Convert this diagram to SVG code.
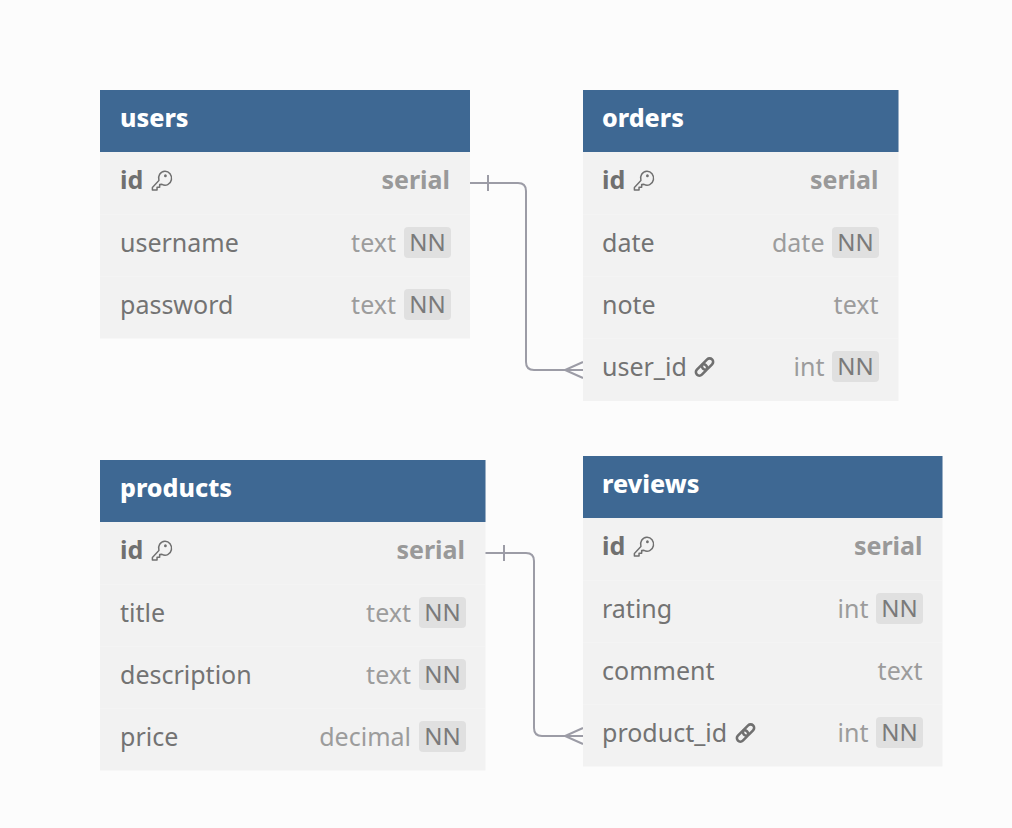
<svg xmlns="http://www.w3.org/2000/svg" width="1012" height="828" viewBox="0 0 1012 828">
<style>
text{font-family:"Noto Sans","Open Sans",sans-serif;font-size:25px}
.bg{fill:#f2f2f2}
.hd{fill:#3e6893}
.sep{stroke:#f4f4f4;stroke-width:1}
.title{font-weight:800;fill:#fff}
.n{fill:#737373}
.pk{font-weight:700;fill:#707070}
.t{fill:#9c9c9c;text-anchor:end}
.tb{fill:#999;font-weight:700;text-anchor:end}
.nn{fill:#e0e0e0}
.nnt{fill:#7a7a7a;text-anchor:middle;font-size:24px}
.ic{fill:none;stroke:#707070}
.c{fill:none;stroke:#9c9ca6;stroke-width:2}
</style>
<defs>
<g id="key"><g transform="translate(1 0) scale(.93 1)"><path class="ic" stroke-width="1.6" stroke-linejoin="round" d="M8.500 12.500 L1.500 19.500 L1.500 22 L6.500 22 L6.500 19.200 L9.300 19.200 L9.300 16.600 L11.800 16.400 A7 7 0 1 0 8.500 12.500 Z"/><circle cx="15.500" cy="7.800" r="1.500" fill="#707070"/></g></g>
<g id="link"><g class="ic" stroke-width="2.600"><rect x="10" y="0.500" width="7" height="13" rx="3.500" transform="rotate(45 13.500 7)"/><rect x="4" y="6.500" width="7" height="13" rx="3.500" transform="rotate(45 7.500 13)"/></g></g>
<g id="nn"><rect class="nn" x="0" y="0" width="47" height="31" rx="4"/><text class="nnt" x="23.500" y="24">NN</text></g>
</defs>
<rect width="1012" height="828" fill="#fcfcfc"/>
<g id="connectors">
<path class="c" d="M470 183 H518 Q526 183 526 191 V362 Q526 370 534 370 H583"/>
<path class="c" d="M488 175 V191 M583 362 L565 370 L583 378"/>
<path class="c" d="M485 553 H526 Q534 553 534 561 V728 Q534 736 542 736 H583"/>
<path class="c" d="M504 545 V561 M583 728 L565 736 L583 744"/>
</g>
<g id="users">
<rect class="bg" x="100" y="90" width="370" height="248.500"/>
<rect class="hd" x="100" y="90" width="370" height="62"/>
<text class="title" x="120" y="127">users</text>
<path class="sep" d="M100 214.500H470M100 276.500H470"/>
<text class="pk" x="120" y="189">id</text><use href="#key" x="150" y="168"/>
<text class="tb" x="450" y="189">serial</text>
<text class="n" x="120" y="252">username</text>
<text class="t" x="396" y="252">text</text><use href="#nn" x="404" y="227"/>
<text class="n" x="120" y="314">password</text>
<text class="t" x="396" y="314">text</text><use href="#nn" x="404" y="289"/>
</g>
<g id="orders">
<rect class="bg" x="583" y="90" width="315.500" height="311"/>
<rect class="hd" x="583" y="90" width="315.500" height="62"/>
<text class="title" x="602" y="127">orders</text>
<path class="sep" d="M583 214.500H898M583 276.500H898M583 338.500H898"/>
<text class="pk" x="602" y="189">id</text><use href="#key" x="632" y="168"/>
<text class="tb" x="878.500" y="189">serial</text>
<text class="n" x="602" y="252">date</text>
<text class="t" x="824.500" y="252">date</text><use href="#nn" x="832" y="227"/>
<text class="n" x="602" y="314">note</text>
<text class="t" x="878.500" y="314">text</text>
<text class="n" x="602" y="376">user_id</text><use href="#link" x="694" y="357"/>
<text class="t" x="824.500" y="376">int</text><use href="#nn" x="832" y="351"/>
</g>
<g id="products">
<rect class="bg" x="100" y="460" width="385.500" height="310.500"/>
<rect class="hd" x="100" y="460" width="385.500" height="62"/>
<text class="title" x="120" y="497">products</text>
<path class="sep" d="M100 584.500H485M100 646.500H485M100 708.500H485"/>
<text class="pk" x="120" y="559">id</text><use href="#key" x="150" y="538"/>
<text class="tb" x="465" y="559">serial</text>
<text class="n" x="120" y="622">title</text>
<text class="t" x="411" y="622">text</text><use href="#nn" x="419" y="597"/>
<text class="n" x="120" y="684">description</text>
<text class="t" x="411" y="684">text</text><use href="#nn" x="419" y="659"/>
<text class="n" x="120" y="746">price</text>
<text class="t" x="411" y="746">decimal</text><use href="#nn" x="419" y="721"/>
</g>
<g id="reviews">
<rect class="bg" x="583" y="456" width="359.500" height="310.500"/>
<rect class="hd" x="583" y="456" width="359.500" height="62"/>
<text class="title" x="602" y="493">reviews</text>
<path class="sep" d="M583 580.500H942M583 642.500H942M583 704.500H942"/>
<text class="pk" x="602" y="555">id</text><use href="#key" x="632" y="534"/>
<text class="tb" x="922.500" y="555">serial</text>
<text class="n" x="602" y="618">rating</text>
<text class="t" x="868.500" y="618">int</text><use href="#nn" x="876" y="593"/>
<text class="n" x="602" y="680">comment</text>
<text class="t" x="922.500" y="680">text</text>
<text class="n" x="602" y="742">product_id</text><use href="#link" x="735" y="723"/>
<text class="t" x="868.500" y="742">int</text><use href="#nn" x="876" y="717"/>
</g>
</svg>
